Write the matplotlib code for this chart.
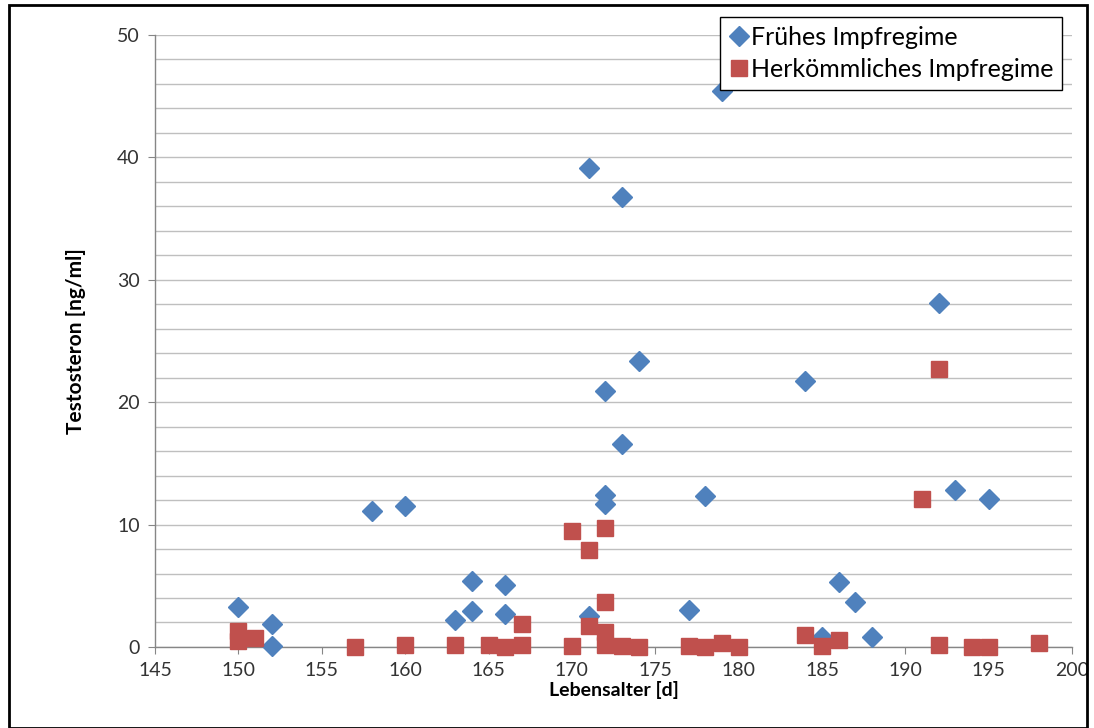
import matplotlib
matplotlib.use("Agg")
import matplotlib.pyplot as plt
from matplotlib.patches import Rectangle

plt.rcParams['font.family'] = ['Lato', 'DejaVu Sans']

# Frühes Impfregime (blue diamonds)
frueh_x = [150, 152, 152, 158, 160, 163, 164, 164, 166, 166, 171, 171, 172, 172, 172,
           173, 173, 174, 177, 178, 179, 184, 185, 186, 187, 188, 192, 193, 195]
frueh_y = [3.3, 1.9, 0.1, 11.1, 11.5, 2.2, 5.4, 2.9, 5.1, 2.7, 39.1, 2.5, 20.9, 12.4, 11.7,
           36.8, 16.6, 23.4, 3.0, 12.3, 45.4, 21.7, 0.8, 5.3, 3.7, 0.8, 28.1, 12.8, 12.1]

# Herkömmliches Impfregime (red squares)
herk_x = [150, 150, 151, 157, 160, 163, 165, 166, 167, 167, 170, 170, 171, 171, 172, 172,
          172, 172, 173, 174, 177, 178, 179, 180, 184, 185, 186, 191, 192, 192, 194, 195, 198]
herk_y = [1.3, 0.5, 0.7, 0.0, 0.2, 0.2, 0.2, 0.0, 1.9, 0.2, 9.5, 0.1, 7.9, 1.7, 9.7, 3.7,
          1.2, 0.2, 0.1, 0.0, 0.1, 0.0, 0.3, 0.0, 1.0, 0.1, 0.6, 12.1, 22.7, 0.2, 0.0, 0.0, 0.3]

fig = plt.figure(figsize=(10.94, 7.28), dpi=100)
ax = fig.add_axes([0.1417, 0.1113, 0.8383, 0.8407])

grid_c = '#BFBFBF'
ax.set_xlim(145, 200)
ax.set_ylim(0, 50)
ax.set_yticks(range(0, 51, 2), minor=True)
ax.set_yticks(range(0, 51, 10))
ax.set_xticks(range(145, 201, 5))
ax.grid(axis='y', which='both', color=grid_c, linewidth=1)
ax.set_axisbelow(True)

for s in ['top', 'right']:
    ax.spines[s].set_visible(False)
for s in ['left', 'bottom']:
    ax.spines[s].set_color('#868686')
    ax.spines[s].set_linewidth(1)

ax.tick_params(axis='both', which='major', color='#868686', length=5, labelsize=14,
               labelcolor='#333333', pad=6)
ax.tick_params(axis='y', which='minor', length=0)

ax.plot(frueh_x, frueh_y, linestyle='none', marker='D', markersize=10,
        color='#4F81BD', markeredgecolor='#4F81BD', label='Frühes Impfregime',
        zorder=3, clip_on=False)
ax.plot(herk_x, herk_y, linestyle='none', marker='s', markersize=12,
        color='#C0504D', markeredgecolor='#C0504D', label='Herkömmliches Impfregime',
        zorder=3, clip_on=False)

ax.set_xlabel('Lebensalter [d]', fontsize=14, fontweight='bold', labelpad=1)
ax.set_ylabel('Testosteron [ng/ml]', fontsize=15, fontweight='bold', labelpad=22)

leg = ax.legend(loc='upper right', bbox_to_anchor=(0.971, 0.976), bbox_transform=fig.transFigure,
                fontsize=18, frameon=True, fancybox=False, handletextpad=0.1,
                handlelength=0.8, borderpad=0.35, labelspacing=0.35, borderaxespad=0)
leg.get_frame().set_edgecolor('black')
leg.get_frame().set_linewidth(1)
leg.get_frame().set_alpha(1)

fig.patches.append(Rectangle((0.008, 0.0), 0.986, 0.993, transform=fig.transFigure,
                             fill=False, edgecolor='black', linewidth=2))

plt.savefig('out.png', dpi=100)
